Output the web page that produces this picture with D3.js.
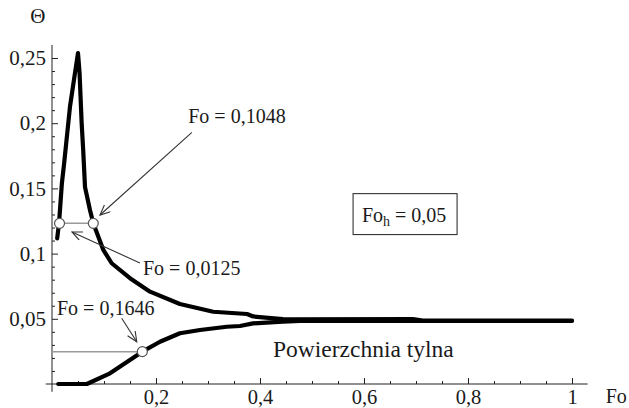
<!DOCTYPE html>
<meta charset="utf-8">
<style>
body { margin: 0; background: #fff; }
svg text { font-family: "Liberation Serif", "DejaVu Serif", "Times New Roman", serif; fill: #1a1a1a; }
.curve { fill: none; stroke: #000; stroke-width: 4.2px; stroke-linejoin: round; stroke-linecap: round; }
.axis line, .axisline { stroke: #222; stroke-width: 1px; }
.guide { stroke: #9a9a9a; stroke-width: 1.5px; }
.arrow { stroke: #333; stroke-width: 1.1px; fill: none; }
.mark { fill: #fff; stroke: #555; stroke-width: 1.2px; }
</style>
<body>
<svg width="629" height="408"></svg>
<script src="https://cdn.jsdelivr.net/npm/d3@7"></script>
<script>

// front surface (heated) response
var upperFo    = [0.010, 0.0135, 0.019, 0.023, 0.0346, 0.0442, 0.050, 0.053, 0.057, 0.060, 0.0635, 0.073, 0.0794, 0.0987, 0.1148, 0.150, 0.1885, 0.246, 0.310, 0.375, 0.387, 0.444, 0.458, 0.694, 0.713, 1.0];
var upperTheta = [0.1117, 0.1232, 0.1539, 0.168, 0.2127, 0.2385, 0.2538, 0.2385, 0.2002, 0.1794, 0.151, 0.1334, 0.1232, 0.1028, 0.0926, 0.0811, 0.0708, 0.0613, 0.0554, 0.0537, 0.0518, 0.0498, 0.0495, 0.0498, 0.0487, 0.0487];

// back surface ("Powierzchnia tylna")
var lowerFo    = [0.012, 0.067, 0.1115, 0.1737, 0.2077, 0.246, 0.2846, 0.336, 0.3615, 0.3865, 0.444, 0.477, 1.0];
var lowerTheta = [0, 0, 0.0082, 0.0248, 0.0324, 0.0389, 0.0414, 0.0439, 0.0445, 0.0465, 0.0478, 0.0483, 0.0483];

var xMajor = [0.2, 0.4, 0.6, 0.8, 1];
var xTickLabels = ["0,2", "0,4", "0,6", "0,8", "1"];
var yMajor = [0.05, 0.1, 0.15, 0.2, 0.25];
var yTickLabels = ["0,05", "0,1", "0,15", "0,2", "0,25"];

// marked points (circles) and guide lines
var markFo    = [0.0145, 0.0794, 0.1737];
var markTheta = [0.1232, 0.1232, 0.0248];

var labelText  = ["Fo = 0,1048", "Fo = 0,0125", "Fo = 0,1646"];
var labelFo    = [0.262, 0.175, 0.0096];
var labelTheta = [0.2005, 0.0836, 0.0529];
// arrows: start -> tip
var arrowFrom = [[0.269, 0.193], [0.169, 0.0928], [0.134, 0.0504]];
var arrowTo   = [[0.0923, 0.1296], [0.0385, 0.1166], [0.163, 0.0324]];

var svg = d3.select("svg");

var x = d3.scaleLinear().domain([0, 1]).range([52, 572]);
var y = d3.scaleLinear().domain([0, 0.25]).range([384, 58]);

svg.append("defs").append("marker")
    .attr("id", "head")
    .attr("markerUnits", "userSpaceOnUse")
    .attr("markerWidth", 14).attr("markerHeight", 14)
    .attr("refX", 11).attr("refY", 5)
    .attr("orient", "auto")
  .append("path")
    .attr("d", "M1,0.5L11,5L1,9.5")
    .attr("fill", "none").attr("stroke", "#333").attr("stroke-width", 1.1);

// axes
var xMinor = d3.range(0.05, 1.001, 0.05).filter(v => xMajor.every(m => Math.abs(m - v) > 1e-6));
var yMinor = d3.range(0.01, 0.2501, 0.01).filter(v => yMajor.every(m => Math.abs(m - v) > 1e-6));

svg.append("g").attr("class", "axis")
    .attr("transform", "translate(0," + y(0) + ")")
    .call(d3.axisBottom(x).tickValues(xMinor).tickSize(-3).tickFormat(""))
    .call(g => g.select(".domain").remove());
svg.append("g").attr("class", "axis")
    .attr("transform", "translate(0," + y(0) + ")")
    .call(d3.axisBottom(x).tickValues(xMajor).tickSize(-6).tickPadding(5)
      .tickFormat((d, i) => xTickLabels[i]))
    .call(g => g.select(".domain").remove())
    .call(g => g.attr("font-family", null).attr("font-size", null))
    .call(g => g.selectAll("text").attr("font-size", 20.5));

svg.append("g").attr("class", "axis")
    .attr("transform", "translate(" + x(0) + ",0)")
    .call(d3.axisLeft(y).tickValues(yMinor).tickSize(-3).tickFormat(""))
    .call(g => g.select(".domain").remove());
svg.append("g").attr("class", "axis")
    .attr("transform", "translate(" + x(0) + ",0)")
    .call(d3.axisLeft(y).tickValues(yMajor).tickSize(-6).tickPadding(6)
      .tickFormat((d, i) => yTickLabels[i]))
    .call(g => g.select(".domain").remove())
    .call(g => g.attr("font-family", null).attr("font-size", null))
    .call(g => g.selectAll("text").attr("font-size", 21));

svg.append("line").attr("class", "axisline")
    .attr("x1", x(-0.012)).attr("x2", x(1.03)).attr("y1", y(0)).attr("y2", y(0));
svg.append("line").attr("class", "axisline")
    .attr("x1", x(0)).attr("x2", x(0)).attr("y1", y(-0.006)).attr("y2", y(0.26));

svg.append("text").attr("x", x(-0.027)).attr("y", y(0.277))
    .attr("font-size", 21).attr("text-anchor", "middle").text("Θ");
svg.append("text").attr("x", x(1.085)).attr("y", y(0) + 19)
    .attr("font-size", 20).attr("text-anchor", "middle").text("Fo");

// guide lines
svg.append("line").attr("class", "guide")
    .attr("x1", x(markFo[0])).attr("x2", x(markFo[1]))
    .attr("y1", y(markTheta[0])).attr("y2", y(markTheta[1]));
svg.append("line").attr("class", "guide")
    .attr("x1", x(0)).attr("x2", x(markFo[2]))
    .attr("y1", y(markTheta[2])).attr("y2", y(markTheta[2]));

// curves
var line = d3.line().x(d => x(d[0])).y(d => y(d[1]));
svg.append("path").attr("class", "curve")
    .attr("d", line(d3.zip(upperFo, upperTheta)));
svg.append("path").attr("class", "curve")
    .attr("d", line(d3.zip(lowerFo, lowerTheta)));

// points
svg.selectAll(".mark").data(d3.zip(markFo, markTheta)).enter().append("circle")
    .attr("class", "mark")
    .attr("cx", d => x(d[0])).attr("cy", d => y(d[1])).attr("r", 5);

// arrows + labels
svg.selectAll(".arrow").data(d3.range(arrowFrom.length)).enter().append("line")
    .attr("class", "arrow")
    .attr("x1", i => x(arrowFrom[i][0])).attr("y1", i => y(arrowFrom[i][1]))
    .attr("x2", i => x(arrowTo[i][0])).attr("y2", i => y(arrowTo[i][1]))
    .attr("marker-end", "url(#head)");

svg.selectAll(".lbl").data(labelText).enter().append("text")
    .attr("class", "lbl")
    .attr("x", (d, i) => x(labelFo[i])).attr("y", (d, i) => y(labelTheta[i]))
    .attr("font-size", 20).text(d => d);

// Fo_h box
svg.append("rect")
    .attr("x", x(0.579)).attr("y", y(0.146))
    .attr("width", x(0.2) - x(0)).attr("height", y(0) - y(0.0314))
    .attr("fill", "none").attr("stroke", "#333").attr("stroke-width", 1.1);
var boxT = svg.append("text").attr("x", x(0.596)).attr("y", y(0.124)).attr("font-size", 20);
boxT.append("tspan").text("Fo");
boxT.append("tspan").attr("font-size", 14).attr("dy", 4).text("h");
boxT.append("tspan").attr("dy", -4).text(" = 0,05");

svg.append("text").attr("x", x(0.425)).attr("y", y(0.0207))
    .attr("font-size", 23.5).text("Powierzchnia tylna");

</script>
</body>
